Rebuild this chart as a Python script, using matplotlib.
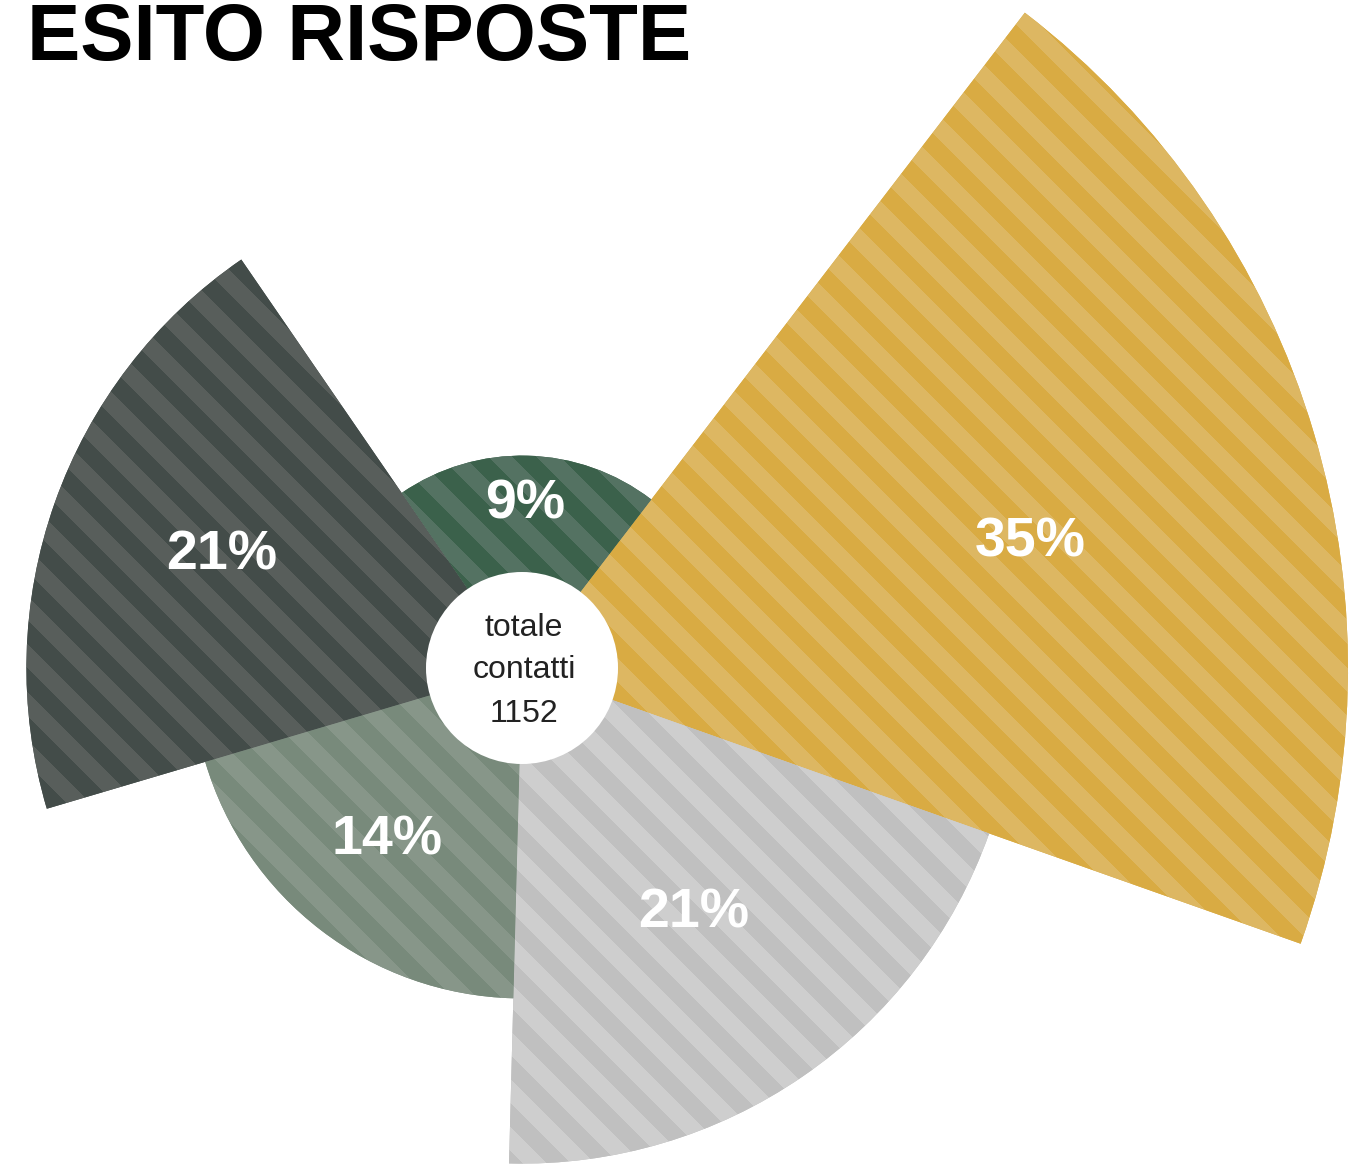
import numpy as np
import matplotlib
matplotlib.use("Agg")
import matplotlib.pyplot as plt
from matplotlib.patches import Wedge, Circle

plt.rcParams['font.family'] = ['Liberation Sans', 'DejaVu Sans']

# data: share of answers, clockwise from the top-right wedge
labels = ["35%", "21%", "14%", "21%", "9%"]
values = [35, 21, 14, 21, 9]
total = 1152

# stripe colours (base, light band) for each wedge
base_colors = ["#D9AB43", "#C0C0C0", "#788A7B", "#434C49", "#3B614B"]
band_colors = ["#DDB762", "#CECECE", "#879689", "#585E5B", "#547262"]

# label placement: fraction of wedge radius, angle offset from the middle
label_frac = [0.636, 0.595, 0.648, 0.651, 0.797]
label_dang = [-2.0, 1.1, -1.6, -2.1, 0.5]

W, H = 1366, 1166
cx, cy = 522, H - 668
px_per_pct = 23.6
hole = 96
start = 52.5
step = 360.0 / len(values)

fig = plt.figure(figsize=(W / 100, H / 100), dpi=100)
ax = fig.add_axes([0, 0, 1, 1])
ax.set_xlim(0, W)
ax.set_ylim(0, H)
ax.axis('off')

# diagonal stripe mask in pixel space (row 0 at the top)
yy, xx = np.mgrid[0:H, 0:W] + 0.5
band = ((xx - yy - 32) % 48) < 24

for i, v in enumerate(values):
    t2 = start - step * i
    t1 = t2 - step
    r = v * px_per_pct
    w = Wedge((cx, cy), r, t1, t2, facecolor=base_colors[i], edgecolor='none')
    ax.add_patch(w)
    c0 = np.array(matplotlib.colors.to_rgb(base_colors[i]))
    c1 = np.array(matplotlib.colors.to_rgb(band_colors[i]))
    img = np.where(band[..., None], c1, c0)
    im = ax.imshow(img, extent=[0, W, 0, H], origin='upper',
                   interpolation='nearest', zorder=2)
    im.set_clip_path(w)

    ang = np.deg2rad((t1 + t2) / 2 + label_dang[i])
    lr = r * label_frac[i]
    ax.text(cx + lr * np.cos(ang), cy + lr * np.sin(ang) - 20, labels[i],
            color='white', fontsize=40, fontweight='bold',
            ha='center', va='baseline', zorder=5)

ax.add_patch(Circle((cx, cy), hole, facecolor='white', edgecolor='none', zorder=4))
for txt, yb in zip(["totale", "contatti", str(total)], [636, 678, 722]):
    ax.text(cx + 2, H - yb, txt, color='#222222', fontsize=23,
            ha='center', va='baseline', zorder=5)

ax.text(27, H - 60, "ESITO RISPOSTE", fontsize=57.5, fontweight='bold',
        color='black', ha='left', va='baseline')

fig.savefig("out.png", dpi=100)
